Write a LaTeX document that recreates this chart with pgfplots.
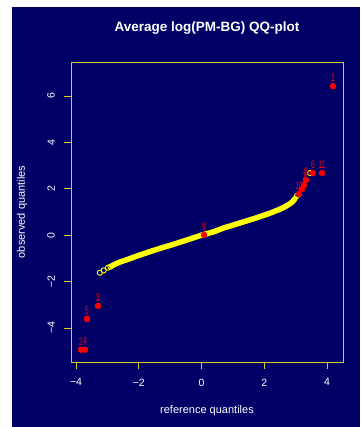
\documentclass[border=0pt]{standalone}
\usepackage{pgfplots}
\pgfplotsset{compat=1.18}
\usepackage{fontspec}
\setmainfont{Liberation Sans}
\definecolor{bgnavy}{RGB}{0,0,102}
\definecolor{frameyel}{RGB}{215,205,40}
\definecolor{ptyel}{RGB}{255,255,0}
\definecolor{ptred}{RGB}{255,0,0}
\begin{document}
\begin{tikzpicture}
\useasboundingbox (-71pt,-65pt) rectangle (289pt,362pt);
\fill[bgnavy] (-59pt,-65pt) rectangle (289pt,355pt);
\begin{axis}[
  at={(0pt,0pt)}, anchor=south west,
  scale only axis, width=272pt, height=300pt,
  xmin=-4.16, xmax=4.51, ymin=-5.47, ymax=7.47,
  axis line style={frameyel, line width=0.8pt},
  xtick={-4,-2,0,2,4}, xticklabels={−4,−2,0,2,4},
  ytick={-4,-2,0,2,4,6}, yticklabels={−4,−2,0,2,4,6},
  tick align=outside, major tick length=7pt,
  tick style={frameyel, line width=0.8pt},
  xtick pos=bottom, ytick pos=left,
  tick label style={font=\fontsize{10.5}{12}\selectfont, text=white},
  xticklabel style={inner ysep=9.5pt},
  yticklabel style={rotate=90, anchor=south, inner ysep=9pt},
  title={Average log(PM-BG) QQ-plot},
  title style={font=\bfseries\fontsize{13.5}{15}\selectfont, text=white, at={(axis description cs:0.5,1)}, anchor=center, yshift=28pt},
  xlabel={reference quantiles},
  ylabel={observed quantiles},
  label style={font=\fontsize{11}{13}\selectfont, text=white},
  every axis x label/.append style={at={(axis description cs:0.5,0)}, anchor=center, yshift=-49pt},
  every axis y label/.append style={at={(axis description cs:0,0.5)}, anchor=center, yshift=49pt},
  clip=false,
]
% main body of the QQ curve
\addplot[ptyel, line width=5.5pt, line cap=round, line join=round] coordinates {
(-2.86,-1.33) (-2.8,-1.28) (-2.6,-1.16) (-2.3,-1.02) (-2.0,-0.87) (-1.6,-0.69)
(-1.3,-0.56) (-1.0,-0.44) (-0.7,-0.31) (-0.4,-0.18) (-0.2,-0.09) (0,0.0)
(0.4,0.15) (0.7,0.31) (1.0,0.43) (1.4,0.60) (1.8,0.77) (2.1,0.91) (2.3,1.01)
(2.5,1.12) (2.65,1.22) (2.8,1.34) (2.9,1.44) (2.98,1.58)
};
% tail points (open circles)
\addplot[only marks, mark=o, mark size=2.6pt, ptyel, line width=0.9pt] coordinates {
(-3.24,-1.62) (-3.12,-1.52) (-2.98,-1.40) (-2.90,-1.36)
(3.04,1.69) (3.46,2.68)
};
% unlabeled red point
\addplot[only marks, mark=*, mark size=3pt, ptred] coordinates {(3.20,1.99)};
% identified points
\addplot[only marks, mark=*, mark size=3pt, ptred,
  nodes near coords, point meta=explicit symbolic,
  every node near coord/.style={font=\fontsize{11}{11}\selectfont, text=ptred, anchor=center, inner sep=0pt, yshift=8.5pt, xscale=0.6}]
  table[meta=label] {
x y label
4.19 6.43 1
-3.84 -4.94 2
-3.30 -3.05 3
-3.71 -4.94 4
-3.65 -3.61 5
3.55 2.68 6
3.27 2.16 7
3.33 2.38 8
0.08 0.01 9
3.11 1.78 10
3.84 2.68 11
};
\end{axis}
\end{tikzpicture}
\end{document}
